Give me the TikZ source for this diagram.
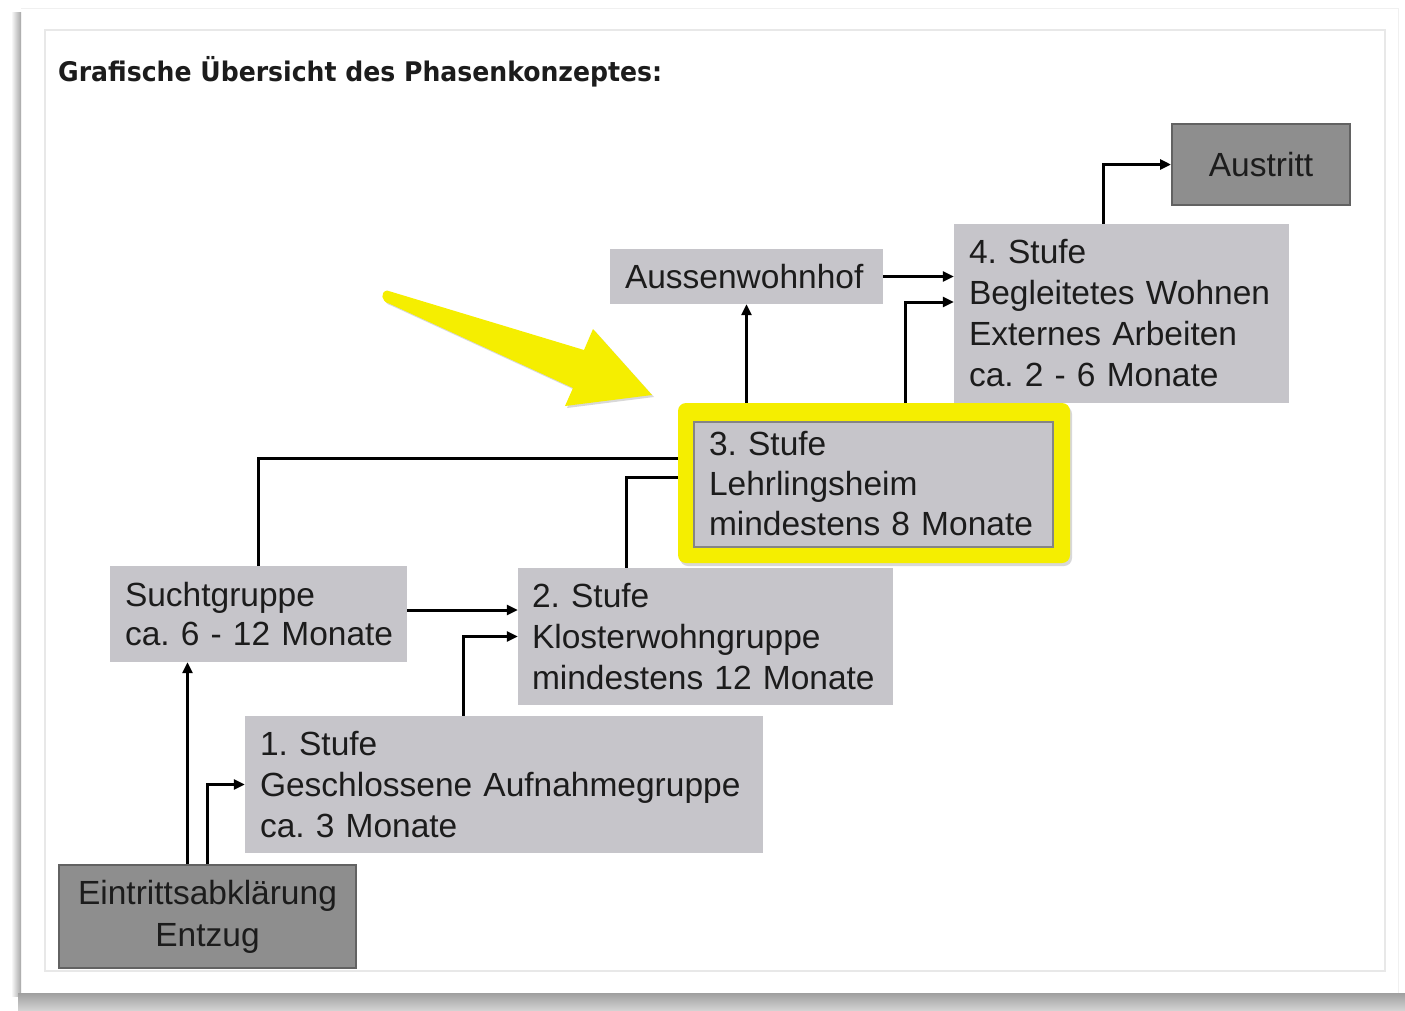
\documentclass[tikz,border=0pt]{standalone}
\usepackage{graphicx}
\usepackage{fontspec}
\setmainfont{Liberation Sans}
\newfontfamily\titlefont{DejaVu Sans}
\usetikzlibrary{arrows.meta,shadows}
\definecolor{boxgray}{HTML}{C6C5CA}
\definecolor{darkbox}{HTML}{8E8E8E}
\definecolor{darkedge}{HTML}{626262}
\definecolor{hiyellow}{HTML}{F5EE00}
\definecolor{inneredge}{HTML}{858585}
\definecolor{txt}{HTML}{1C1C1C}
\frenchspacing
\begin{document}
\begin{tikzpicture}[x=1pt,y=-1pt,
  stage/.style={fill=boxgray, inner xsep=15pt, inner ysep=0pt, align=left,
    font=\fontsize{33.5}{41}\selectfont, text=txt},
  darkstage/.style={fill=darkbox, draw=darkedge, line width=2pt, align=center,
    font=\fontsize{33.5}{42}\selectfont, text=txt},
  arr/.style={line width=3pt, -{Triangle[length=11pt,width=10pt]}},
  link/.style={line width=3pt},
]
\useasboundingbox (0,0) rectangle (1405,1010);
% page and frames
\fill[white] (0,0) rectangle (1405,1010);
\shade[left color=white, right color=gray!70] (11,12) rectangle (21,996);
\shade[top color=gray!75, bottom color=gray!35] (18,993) rectangle (1405,1010);
\draw[gray!12, line width=1pt] (21,8) -- (1398,8) -- (1398,993);
\draw[gray!18, line width=1.2pt] (45,30) rectangle (1385,971);
% title
\node[anchor=base west, text=txt, inner sep=0pt] (title) at (58,81)
  {\resizebox{604pt}{\height}{\titlefont\bfseries\fontsize{27}{30}\selectfont Grafische Übersicht des Phasenkonzeptes:}};
% boxes
\node[darkstage, minimum width=178pt, minimum height=81pt] (aus) at (1261,164.5) {Austritt};
\node[stage, minimum width=335pt, minimum height=179pt, text width=305pt] (s4) at (1121.5,313.5)
  {4. Stufe\\\mbox{Begleitetes Wohnen}\\Externes Arbeiten\\ca. 2 - 6 Monate};
\node[stage, minimum width=273pt, minimum height=55pt, text width=243pt] (auw) at (746.5,276.5) {Aussenwohnhof};
\node[stage, minimum width=297pt, minimum height=96pt, text width=267pt, font=\fontsize{33.5}{39}\selectfont] (sg) at (258.5,614)
  {Suchtgruppe\\\mbox{ca. 6 - 12 Monate}};
\node[stage, minimum width=375pt, minimum height=137pt, text width=347pt, inner xsep=14pt] (s2) at (705.5,636.5)
  {2. Stufe\\Klosterwohngruppe\\\mbox{mindestens 12 Monate}};
\node[stage, minimum width=518pt, minimum height=137pt, text width=488pt] (s1) at (504,784.5)
  {1. Stufe\\Geschlossene Aufnahmegruppe\\ca. 3 Monate};
\node[darkstage, minimum width=297pt, minimum height=103pt] (ein) at (207.5,916.5)
  {Eintrittsabklärung\\Entzug};
% highlighted stage 3
\node[fill=hiyellow, rounded corners=8pt, minimum width=392pt, minimum height=160pt, inner sep=0pt,
  drop shadow={shadow xshift=2pt, shadow yshift=-3pt, opacity=0.3}] (s3y) at (874,483) {};
\node[stage, draw=inneredge, line width=2pt, minimum width=359pt, minimum height=125pt, text width=329pt,
  font=\fontsize{33.5}{40}\selectfont] (s3) at (873.5,484)
  {3. Stufe\\Lehrlingsheim\\\mbox{mindestens 8 Monate}};
% connectors
\draw[link] (sg.north) |- ([yshift=25pt]s3y.west);
\draw[link] ([xshift=-79.5pt]s2.north) |- ([yshift=6pt]s3y.west);
\draw[arr] ([xshift=-20pt]ein.north) -- ([xshift=-20pt]ein.north |- sg.south);
\draw[arr] (ein.north) |- (s1.west);
\draw[arr] ([xshift=-41pt]s1.north) |- (s2.west);
\draw[arr] ([yshift=4pt]sg.east) -- ([yshift=4pt]sg.east -| s2.west);
\draw[arr] (s3y.north -| auw.south) -- (auw.south);
\draw[arr] ([xshift=31pt]s3y.north) |- ([yshift=11.5pt]s4.west);
\draw[arr] (auw.east) -- (auw.east -| s4.west);
\draw[arr] ([xshift=-18.5pt]s4.north) |- (aus.west);
% yellow pointer arrow
\path[fill=hiyellow, drop shadow={shadow xshift=2pt, shadow yshift=-2pt, opacity=0.3}]
  (387,290.5) -- (584,350) -- (593,329) -- (652,395) -- (565,406) -- (573,388) -- (389,303.5)
  .. controls (381,301.5) and (380,292) .. (387,290.5) -- cycle;
\end{tikzpicture}
\end{document}
